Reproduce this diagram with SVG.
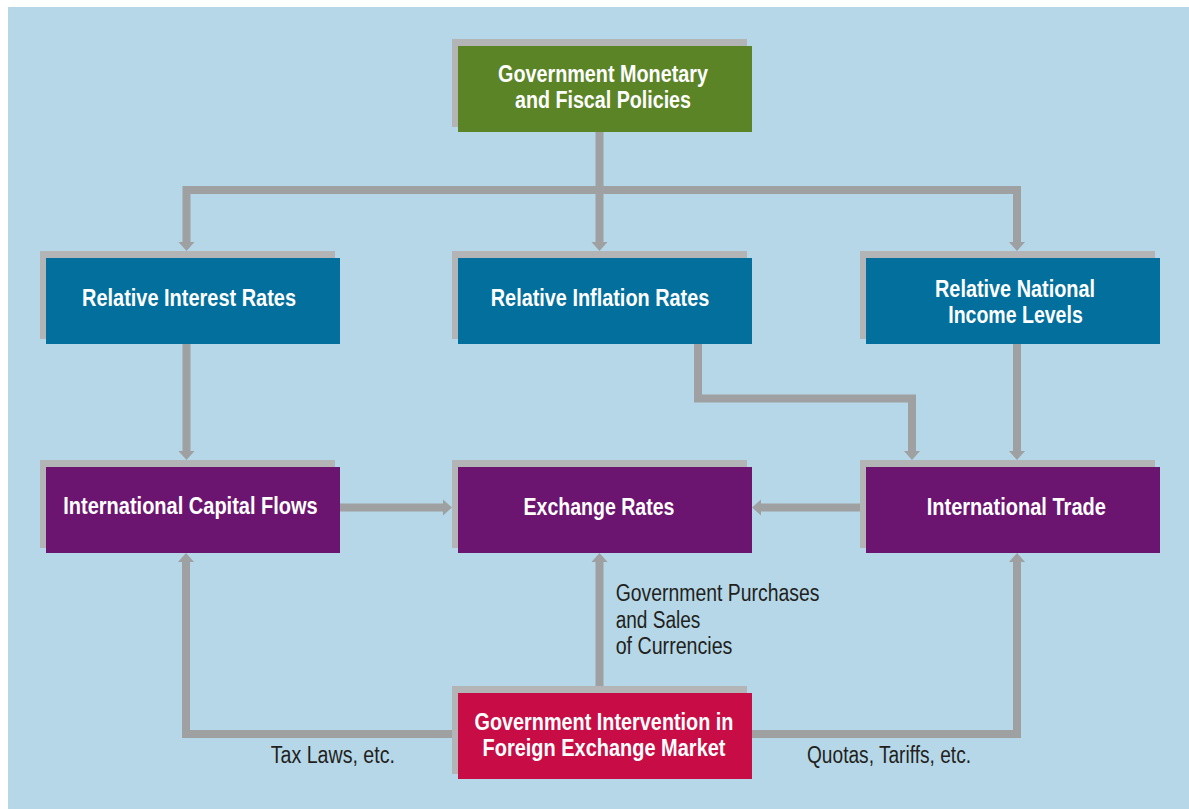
<svg xmlns="http://www.w3.org/2000/svg" width="1189" height="809" viewBox="0 0 1189 809">
<defs>
<style>
.bg{fill:#b5d7e7}
.sh{fill:#b2b4b6}
.green{fill:#5b8427}
.blue{fill:#026f9c}
.purple{fill:#6c1570}
.red{fill:#c70c46}
.con{fill:none;stroke:#9fa0a2;stroke-width:8;stroke-linejoin:miter;stroke-linecap:butt}
.t{font-family:"Liberation Sans",Arial,sans-serif;font-weight:bold;font-size:23px;fill:#ffffff;text-anchor:middle}
.lbl{font-family:"Liberation Sans",Arial,sans-serif;font-size:23px;fill:#231f20}
</style>
<marker id="arr" markerUnits="userSpaceOnUse" markerWidth="12" markerHeight="20" refX="0" refY="8" orient="auto" viewBox="0 0 12 16">
<path d="M0,0 L9,8 L0,16 Z" fill="#9fa0a2"/>
</marker>
</defs>
<rect class="bg" x="8" y="7" width="1181" height="802"/>
<g id="connectors">
<path class="con" d="M599.5,132 V242" marker-end="url(#arr)"/>
<path class="con" d="M599.5,190 H186.5 V242" marker-end="url(#arr)"/>
<path class="con" d="M599.5,190 H1017 V242" marker-end="url(#arr)"/>
<path class="con" d="M186.5,344 V451" marker-end="url(#arr)"/>
<path class="con" d="M698,344 V398.5 H912 V451" marker-end="url(#arr)"/>
<path class="con" d="M1017,344 V451" marker-end="url(#arr)"/>
<path class="con" d="M340,507.5 H443" marker-end="url(#arr)"/>
<path class="con" d="M860,507.5 H761" marker-end="url(#arr)"/>
<path class="con" d="M452,734 H186 V562" marker-end="url(#arr)"/>
<path class="con" d="M599.5,686 V562" marker-end="url(#arr)"/>
<path class="con" d="M752,734 H1017 V562" marker-end="url(#arr)"/>
</g>
<g id="policies">
<rect class="sh" x="452" y="39" width="295" height="88"/>
<rect class="green" x="458" y="46" width="294" height="86"/>
<text class="t" x="603" y="81.5" textLength="210" lengthAdjust="spacingAndGlyphs">Government Monetary</text>
<text class="t" x="603" y="108.3" textLength="176" lengthAdjust="spacingAndGlyphs">and Fiscal Policies</text>
</g>
<g id="interest">
<rect class="sh" x="40" y="251" width="295" height="88"/>
<rect class="blue" x="46" y="258" width="294" height="86"/>
<text class="t" x="189" y="306" textLength="214" lengthAdjust="spacingAndGlyphs">Relative Interest Rates</text>
</g>
<g id="inflation">
<rect class="sh" x="452" y="251" width="295" height="88"/>
<rect class="blue" x="458" y="258" width="294" height="86"/>
<text class="t" x="600" y="305.5" textLength="218.5" lengthAdjust="spacingAndGlyphs">Relative Inflation Rates</text>
</g>
<g id="income">
<rect class="sh" x="860" y="251" width="295" height="88"/>
<rect class="blue" x="866" y="258" width="294" height="86"/>
<text class="t" x="1015" y="296.7" textLength="160" lengthAdjust="spacingAndGlyphs">Relative National</text>
<text class="t" x="1015.5" y="323.3" textLength="134.5" lengthAdjust="spacingAndGlyphs">Income Levels</text>
</g>
<g id="capital">
<rect class="sh" x="40" y="460" width="295" height="88"/>
<rect class="purple" x="46" y="467" width="294" height="86"/>
<text class="t" x="190.5" y="514" textLength="254.5" lengthAdjust="spacingAndGlyphs">International Capital Flows</text>
</g>
<g id="exchange">
<rect class="sh" x="452" y="460" width="295" height="88"/>
<rect class="purple" x="458" y="467" width="294" height="86"/>
<text class="t" x="599" y="515" textLength="151" lengthAdjust="spacingAndGlyphs">Exchange Rates</text>
</g>
<g id="trade">
<rect class="sh" x="860" y="460" width="295" height="88"/>
<rect class="purple" x="866" y="467" width="294" height="86"/>
<text class="t" x="1016.3" y="515" textLength="179.3" lengthAdjust="spacingAndGlyphs">International Trade</text>
</g>
<g id="intervention">
<rect class="sh" x="452" y="686" width="295" height="88"/>
<rect class="red" x="458" y="693" width="294" height="86"/>
<text class="t" x="604" y="730" textLength="259" lengthAdjust="spacingAndGlyphs">Government Intervention in</text>
<text class="t" x="604" y="756" textLength="243" lengthAdjust="spacingAndGlyphs">Foreign Exchange Market</text>
</g>
<g id="labels">
<text class="lbl" x="615.7" y="601" textLength="203.7" lengthAdjust="spacingAndGlyphs">Government Purchases</text>
<text class="lbl" x="615.7" y="627.6" textLength="84.7" lengthAdjust="spacingAndGlyphs">and Sales</text>
<text class="lbl" x="615.7" y="654.2" textLength="116.7" lengthAdjust="spacingAndGlyphs">of Currencies</text>
<text class="lbl" x="270.7" y="763" textLength="124.3" lengthAdjust="spacingAndGlyphs">Tax Laws, etc.</text>
<text class="lbl" x="807" y="763" textLength="164" lengthAdjust="spacingAndGlyphs">Quotas, Tariffs, etc.</text>
</g>
</svg>
